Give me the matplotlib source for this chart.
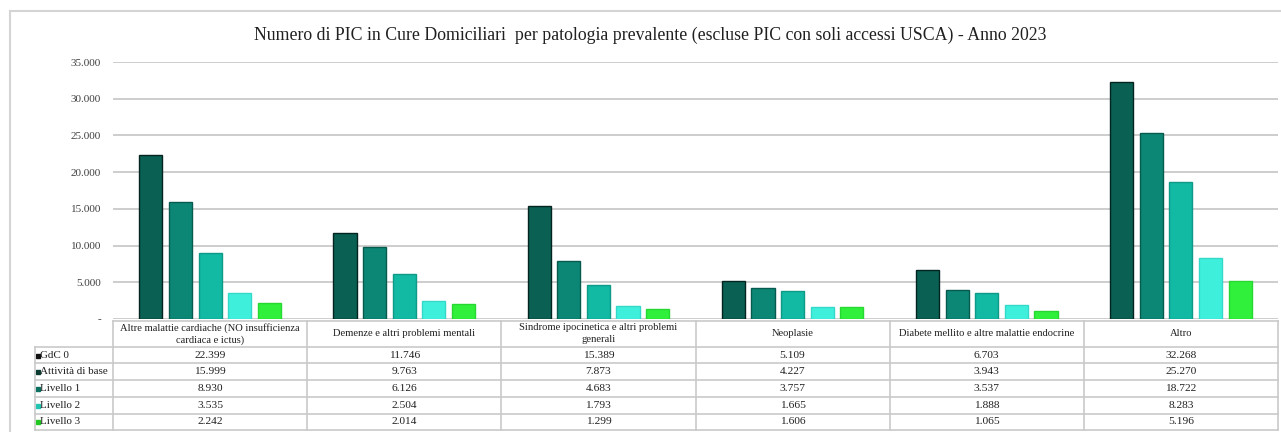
import matplotlib.pyplot as plt
import numpy as np

categories = [
    "Altre malattie cardiache (NO insufficienza\ncardiaca e ictus)",
    "Demenze e altri problemi mentali",
    "Sindrome ipocinetica e altri problemi\ngenerali",
    "Neoplasie",
    "Diabete mellito e altre malattie endocrine",
    "Altro",
]
series_names = ["GdC 0", "Attività di base", "Livello 1", "Livello 2", "Livello 3"]
gdc0 = [22399, 11746, 15389, 5109, 6703, 32268]
attivita_base = [15999, 9763, 7873, 4227, 3943, 25270]
livello1 = [8930, 6126, 4683, 3757, 3537, 18722]
livello2 = [3535, 2504, 1793, 1665, 1888, 8283]
livello3 = [2242, 2014, 1299, 1606, 1065, 5196]
series_values = [gdc0, attivita_base, livello1, livello2, livello3]

bar_colors = ["#0a6052", "#0c8776", "#12b9a3", "#3ef0dc", "#30f03c"]
edge_colors = ["#04241f", "#075a4e", "#0e9a86", "#34d8c8", "#28d832"]
key_colors = ["#111111", "#0a3a30", "#0b7262", "#22c4b2", "#22c822"]

FONT = "Liberation Serif"
W, H = 1281, 432
GRID = "#c9c9c9"


def fmt(v):
    if v == 0:
        return "-"
    return f"{v:,.0f}".replace(",", ".")


fig = plt.figure(figsize=(W / 100, H / 100), dpi=100)

# pixel geometry of the plot area
x_left, x_right = 113, 1278
y_top, y_bottom = 62, 319

ax = fig.add_axes([x_left / W, (H - y_bottom) / H, (x_right - x_left) / W, (y_bottom - y_top) / H])
ax.set_xlim(-0.5, len(categories) - 0.5)
ax.set_ylim(0, 35000)
ax.set_yticks(np.arange(0, 35001, 5000))
ax.set_yticklabels([fmt(v) for v in np.arange(0, 35001, 5000)], fontsize=8,
                   family=FONT, color="#404040")
ax.tick_params(axis="y", length=0, pad=8.5)
ax.set_xticks([])
for s in ax.spines.values():
    s.set_visible(False)
ax.grid(axis="y", color=GRID, lw=1.3)
ax.set_axisbelow(True)

step = 0.1526
width = 0.119
x = np.arange(len(categories))
for i, vals in enumerate(series_values):
    ax.bar(x + (i - 2) * step, vals, width, color=bar_colors[i],
           edgecolor=edge_colors[i], linewidth=1.0, zorder=3)

# overlay axes in pixel coordinates for the frame, title and data table
bg = fig.add_axes([0, 0, 1, 1], zorder=-1)
bg.set_xlim(0, W)
bg.set_ylim(H, 0)
bg.axis("off")
over = fig.add_axes([0, 0, 1, 1], zorder=5)
over.set_xlim(0, W)
over.set_ylim(H, 0)
over.axis("off")
over.patch.set_alpha(0)

bg.plot([10, 10], [11, H], color="#d4d4d4", lw=1.5)
bg.plot([10, W], [11, 11], color="#d4d4d4", lw=1.5)

over.text(650, 35, "Numero di PIC in Cure Domiciliari  per patologia prevalente (escluse PIC con soli accessi USCA) - Anno 2023",
          ha="center", va="center", fontsize=12.8, family=FONT, color="#202020")

# table
col_w = (x_right - x_left) / len(categories)
bounds = [x_left + k * col_w for k in range(len(categories) + 1)]
head_top, head_bot = 320.7, 346.7
row_h = 16.7
row_lines = [head_bot + k * row_h for k in range(len(series_names) + 1)]
tab_left = 35

over.plot([x_left, x_right], [head_top, head_top], color=GRID, lw=1.2)
for yy in row_lines:
    over.plot([tab_left, x_right], [yy, yy], color=GRID, lw=1.2)
over.plot([tab_left, tab_left], [head_bot, row_lines[-1]], color=GRID, lw=1.2)
for bx in bounds:
    over.plot([bx, bx], [head_top, row_lines[-1]], color=GRID, lw=1.2)

for k, cat in enumerate(categories):
    cx = (bounds[k] + bounds[k + 1]) / 2
    over.text(cx, (head_top + head_bot) / 2, cat, ha="center", va="center",
              fontsize=7.6, family=FONT, color="#202020", linespacing=1.35)

for i, name in enumerate(series_names):
    cy = row_lines[i] + row_h / 2
    over.add_patch(plt.Rectangle((36, cy - 1.5), 4, 4, color=key_colors[i]))
    over.text(40.5, cy, name, ha="left", va="center", fontsize=7.9,
              family=FONT, color="#202020")
    for k in range(len(categories)):
        cx = (bounds[k] + bounds[k + 1]) / 2
        over.text(cx, cy, fmt(series_values[i][k]), ha="center", va="center",
                  fontsize=8.2, family=FONT, color="#202020")

fig.savefig("out.png", dpi=100)
